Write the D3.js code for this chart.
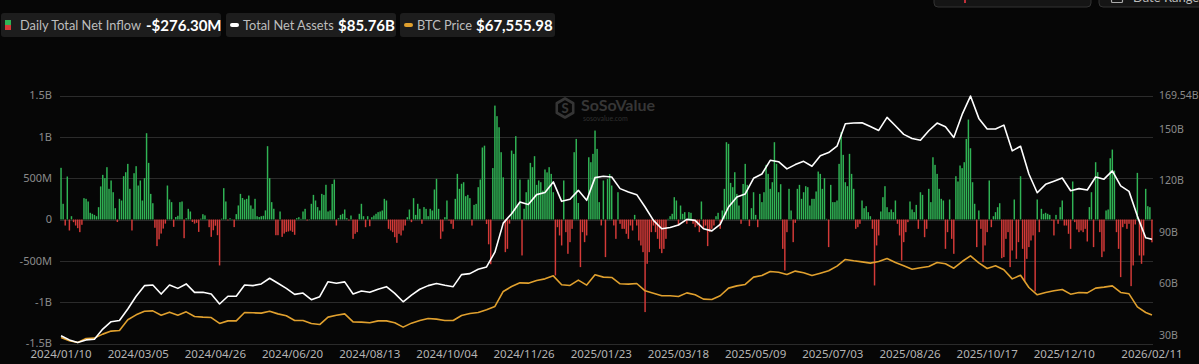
<!DOCTYPE html>
<html><head><meta charset="utf-8">
<script src="https://cdn.jsdelivr.net/npm/d3@7"></script>
<style>
html,body{margin:0;padding:0;background:#060606;}
svg{display:block;}
</style></head><body>
<svg id="c" width="1199" height="364"></svg>
<script>
// ---------- DATA ----------
const dayCount = 524; // trading days 2024/01/10 .. 2026/02/11
const tickLabels = ["2024/01/10","2024/03/05","2024/04/26","2024/06/20","2024/08/13","2024/10/04","2024/11/26","2025/01/23","2025/03/18","2025/05/09","2025/07/03","2025/08/26","2025/10/17","2025/12/10","2026/02/11"];
const tickInterval = 37;

// Daily total net inflow, $M (one per trading day)
const netInflowM = [
625,190,-73,520,-133,40,-32,-73,-105,-153,
-64,258,250,218,81,69,56,40,149,400,
540,500,633,371,472,330,137,-30,250,230,
524,572,673,371,-133,560,645,411,472,230,
500,1044,685,310,197,-100,-322,-240,-170,-110,
-50,411,242,210,-89,30,45,210,218,-226,
15,129,97,-30,-50,-40,-150,10,64,50,
5,-93,-210,-130,-75,-190,-556,10,379,218,
-10,15,5,-92,65,170,310,260,240,250,
290,170,130,250,40,30,40,45,110,887,
500,210,130,-190,
-190,97,-210,-170,-150,-145,
-135,-150,-185,16,28,8,97,129,-12,5,
190,298,230,150,109,310,298,420,97,109,
430,484,-73,16,56,69,121,16,-12,48,
-234,-173,-153,69,190,40,-93,40,-81,28,
48,69,89,97,109,250,230,-113,-133,-153,
-214,-282,-173,-193,-133,-73,28,121,-32,258,
56,190,129,-52,150,129,40,129,109,363,
492,129,-234,-145,28,230,-12,-52,-113,250,
552,371,432,451,282,298,258,-73,177,189,
391,484,871,893,-55,-300,-541,622,1378,1250,
1116,814,510,-395,-355,-50,834,794,1008,169,
484,-435,130,330,484,685,633,766,419,472,
451,350,605,570,633,552,330,-677,-93,-193,
-314,472,-153,-415,-274,-113,814,975,200,-576,
-153,-274,-193,753,693,794,1076,854,210,-72,
472,-455,490,550,411,-72,-234,330,-52,-113,
-113,-173,-234,-73,-133,56,-73,-254,-314,-395,
-1120,-536,-395,-153,-73,-153,-234,-355,-407,-355,
-234,8,40,69,270,230,-73,169,69,89,
-52,89,81,-52,-93,-73,-153,218,-113,-73,
-322,-153,-113,-73,40,81,-113,
109,371,935,
915,443,391,572,310,169,-52,430,673,419,
-80,137,330,56,-93,310,210,330,661,552,
371,451,935,673,330,427,-355,-617,-153,371,
109,-274,-40,371,419,250,330,403,391,169,
250,250,339,580,552,371,500,8,-334,419,
210,210,230,673,1056,782,451,403,794,552,
371,-113,-93,-52,230,137,161,89,40,-113,
-798,-314,-193,97,270,403,149,89,121,89,
230,-52,-193,-496,-274,-153,-32,218,121,89,
177,-113,330,298,-214,-113,371,210,753,661,
552,371,250,
230,-355,-153,242,-234,-415,524,
460,653,621,693,975,1209,862,451,190,-334,
109,-113,-516,-314,-153,472,-93,40,89,149,
197,-468,-455,-234,-153,-576,-375,242,-476,-274,
524,-355,-750,-476,-334,-254,-193,-870,242,-153,
129,69,81,69,56,-12,-193,56,-52,149,
230,-73,-73,-173,-355,460,-32,-121,-153,-133,
-153,-113,-266,150,330,-334,693,572,-153,-455,
-387,109,121,741,846,592,-153,-355,-697,-93,
-52,-113,-52,-806,-556,-60,564,-435,-536,-435,
371,161,149,-276.3
];

// Lines are read every 4th trading day, plus the last day
const lineStep = 4;
// Total net assets, $B
const netAssetsB = [
29.6,27.2,25.7,27.2,27.6,33.5,37.8,38.5,45.2,52.6,
58.8,59.2,53.9,59.2,57.2,59.8,54.9,54.9,53.9,48.1,
52.6,52.6,59.2,58.8,59.8,63.1,60.2,57.2,53.7,54.5,
50.6,52.4,61.1,60.2,61.0,53.9,55.7,54.9,56.7,58.2,
54.3,49.4,53.3,56.7,58.8,60.0,59.0,58.2,65.2,65.8,
68.3,69.7,78.3,95.2,100.7,107.5,106.0,111.8,113.0,119.2,
107.9,109.1,114.3,108.5,121.7,122.5,122.1,115.3,113.4,111.8,
104.6,96.8,91.9,92.7,94.1,97.4,96.8,91.9,90.7,94.5,
104.6,110.4,112.2,121.3,123.8,131.8,131.0,126.8,129.3,131.2,
128.3,134.5,136.3,140.0,153.1,153.5,153.7,151.5,149.2,156.8,
151.9,146.9,144.5,143.5,149.0,153.5,151.3,145.1,158.5,169.2,
156.2,150.0,150.0,152.3,137.3,140.0,123.8,112.9,117.8,119.6,
121.5,114.1,115.3,114.5,122.1,120.8,125.6,116.9,113.7,99.3,
86.7,85.76
];
// BTC price, $K
const btcPriceK = [
46.8,43.7,42.1,45.8,46.2,49.9,52.7,53.3,63.2,67.8,
71.2,71.5,67.5,70.3,67.5,70.6,66.3,65.7,65.3,59.8,
62.2,62.2,70.0,69.7,69.4,71.2,68.7,66.9,62.6,62.6,
59.8,58.8,65.7,67.5,68.7,61.3,61.0,60.4,62.2,62.2,
60.4,56.4,60.1,62.6,64.4,63.8,62.6,62.6,67.2,69.1,
70.0,72.5,75.6,89.5,94.1,97.5,97.2,99.7,101.2,104.0,
95.7,95.1,100.0,95.4,105.0,102.8,102.5,96.6,96.3,96.9,
90.1,87.9,85.5,85.5,84.8,88.2,86.4,82.4,82.1,85.5,
92.6,94.7,96.0,102.8,104.3,108.1,107.4,105.3,108.4,106.8,
104.3,106.5,108.7,113.0,119.2,118.0,117.0,115.8,117.3,120.1,
116.4,113.3,110.2,111.5,112.7,116.4,115.2,111.1,117.3,122.6,
116.1,110.8,113.3,109.6,101.2,104.6,93.2,86.4,88.6,90.1,
91.3,87.0,88.6,88.2,92.6,93.5,94.7,88.6,87.3,75.2,
70.0,67.55598
];

const leftTicks = [-1500,-1000,-500,0,500,1000,1500];
const leftTickLabels = ["-1.5B","-1B","-500M","0","500M","1B","1.5B"];
const rightTicks = [30,60,90,120,150,169.54];
const rightTickLabels = ["30B","60B","90B","120B","150B","169.54B"];

if (netInflowM.length !== dayCount) throw new Error("inflow len " + netInflowM.length);
if (netAssetsB.length !== btcPriceK.length) throw new Error("line len");

// ---------- CHART ----------
const W = 1199, H = 364;
const P = {left: 60, right: 1153, top: 95.5, bottom: 343.5};
const svg = d3.select("#c");
svg.append("rect").attr("width", W).attr("height", H).attr("fill", "#060606");

const x = d3.scaleBand().domain(d3.range(dayCount)).range([P.left, P.right])
  .paddingInner(0.3).paddingOuter(0.15);
const cx = i => x(i) + x.bandwidth() / 2;
const yL = d3.scaleLinear().domain([-1500, 1500]).range([P.bottom, P.top]);
const yR = d3.scaleLinear().domain([25.1, 169.54]).range([P.bottom, P.top]);
const yB = d3.scaleLinear().domain([41.2, 271.4]).range([P.bottom, P.top]);

// grid
svg.append("g").selectAll("line").data(leftTicks).join("line")
  .attr("x1", P.left).attr("x2", P.right)
  .attr("y1", d => Math.round(yL(d)) + 0.5).attr("y2", d => Math.round(yL(d)) + 0.5)
  .attr("stroke", "#2b2b2b").attr("stroke-width", 1);

// watermark
const wm = svg.append("g").attr("transform", "translate(555,97)");
const hex = d3.range(6).map(k => {
  const a = Math.PI / 6 + k * Math.PI / 3;
  return [10 + 9.5 * Math.cos(a), 11 + 9.5 * Math.sin(a)];
});
wm.append("path").attr("d", "M" + hex.join("L") + "Z")
  .attr("fill", "none").attr("stroke", "#353535").attr("stroke-width", 2.6).attr("stroke-linejoin", "round");
wm.append("text").attr("x", 10).attr("y", 16).attr("text-anchor", "middle")
  .attr("font-family", "Lato, sans-serif").attr("font-weight", 900).attr("font-size", 13)
  .attr("fill", "#353535").text("S");
wm.append("text").attr("x", 26).attr("y", 14)
  .attr("font-family", "Lato, sans-serif").attr("font-weight", 700).attr("font-size", 16)
  .attr("fill", "#363636").text("SoSoValue");
wm.append("text").attr("x", 28).attr("y", 24)
  .attr("font-family", "Lato, sans-serif").attr("font-size", 7)
  .attr("fill", "#303030").text("sosovalue.com");

// bars
svg.append("g").selectAll("rect").data(netInflowM).join("rect")
  .attr("x", (d, i) => x(i)).attr("width", x.bandwidth())
  .attr("y", d => d >= 0 ? yL(d) : yL(0))
  .attr("height", d => Math.abs(yL(d) - yL(0)))
  .attr("fill", d => d >= 0 ? "#30b455" : "#d43a38");

// lines
const lineIdx = (k, n) => (k === n - 1 ? dayCount - 1 : k * lineStep);
const btcLine = d3.line().x((d, k) => cx(lineIdx(k, btcPriceK.length))).y(d => yB(d));
const assetLine = d3.line().x((d, k) => cx(lineIdx(k, netAssetsB.length))).y(d => yR(d));
svg.append("path").attr("d", btcLine(btcPriceK)).attr("fill", "none")
  .attr("stroke", "#e0a02e").attr("stroke-width", 1.6).attr("stroke-linejoin", "round");
svg.append("path").attr("d", assetLine(netAssetsB)).attr("fill", "none")
  .attr("stroke", "#ffffff").attr("stroke-width", 1.6).attr("stroke-linejoin", "round");

// axes labels
const axisFont = "'Noto Sans', 'Open Sans', sans-serif";
svg.append("g").selectAll("text").data(leftTicks).join("text")
  .attr("x", 52).attr("y", d => yL(d)).attr("dy", "0.35em").attr("text-anchor", "end")
  .attr("font-family", axisFont).attr("font-size", 11).attr("fill", "#8a8a8a")
  .text((d, i) => leftTickLabels[i]);
svg.append("g").selectAll("text").data(rightTicks).join("text")
  .attr("x", 1159).attr("y", d => yR(d)).attr("dy", "0.35em").attr("text-anchor", "start")
  .attr("font-family", axisFont).attr("font-size", 10.5).attr("fill", "#8a8a8a")
  .text((d, i) => rightTickLabels[i]);
svg.append("g").selectAll("text").data(tickLabels).join("text")
  .attr("x", (d, i) => cx(i === tickLabels.length - 1 ? dayCount - 1 : i * tickInterval))
  .attr("y", 358).attr("text-anchor", "middle")
  .attr("font-family", axisFont).attr("font-size", 11.5).attr("fill", "#b4b4b4")
  .text(d => d);

// legend
const legFont = "Lato, 'Noto Sans', sans-serif";
const last = a => a[a.length - 1];
const legend = [
  {x: 1, w: 220, label: "Daily Total Net Inflow", value: (last(netInflowM) < 0 ? "-$" : "$") + d3.format(".2f")(Math.abs(last(netInflowM))) + "M", lx: 19, vx: 145},
  {x: 226, w: 170, label: "Total Net Assets", value: "$" + d3.format(".2f")(last(netAssetsB)) + "B", lx: 17, vx: 112},
  {x: 400, w: 155, label: "BTC Price", value: "$" + d3.format(",.2f")(last(btcPriceK) * 1000), lx: 17, vx: 76}
];
const lg = svg.append("g").selectAll("g").data(legend).join("g").attr("transform", d => `translate(${d.x},13)`);
lg.append("rect").attr("width", d => d.w).attr("height", 24).attr("rx", 3).attr("fill", "#1d1d1d");
lg.append("text").attr("x", d => d.lx).attr("y", 17).attr("font-family", legFont).attr("font-size", 12.8)
  .attr("fill", "#bdbdbd").text(d => d.label);
lg.append("text").attr("x", d => d.vx).attr("y", 17.5).attr("font-family", legFont).attr("font-weight", 700)
  .attr("font-size", 15).attr("fill", "#ffffff").text(d => d.value);
// legend icons
const g0 = d3.select(lg.nodes()[0]);
g0.append("rect").attr("x", 4).attr("y", 7).attr("width", 6).attr("height", 5).attr("fill", "#30b455");
g0.append("rect").attr("x", 4).attr("y", 12).attr("width", 6).attr("height", 5).attr("fill", "#d43a38");
d3.select(lg.nodes()[1]).append("rect").attr("x", 4).attr("y", 10).attr("width", 9).attr("height", 4).attr("rx", 2).attr("fill", "#ffffff");
d3.select(lg.nodes()[2]).append("rect").attr("x", 4).attr("y", 10).attr("width", 9).attr("height", 4).attr("rx", 2).attr("fill", "#e0a02e");

// partial controls cut at top-right
svg.append("rect").attr("x", 934).attr("y", -20).attr("width", 157).attr("height", 27).attr("rx", 4)
  .attr("fill", "#151515").attr("stroke", "#333").attr("stroke-width", 1);
svg.append("rect").attr("x", 964).attr("y", -4).attr("width", 2).attr("height", 7).attr("fill", "#c0303a");
svg.append("rect").attr("x", 1099).attr("y", -20).attr("width", 110).attr("height", 27).attr("rx", 4)
  .attr("fill", "#151515").attr("stroke", "#333").attr("stroke-width", 1);
svg.append("rect").attr("x", 1111.5).attr("y", -6).attr("width", 11).attr("height", 8.5).attr("rx", 1)
  .attr("fill", "none").attr("stroke", "#aaa").attr("stroke-width", 1.2);
svg.append("text").attr("x", 1133).attr("y", 1.5).attr("font-family", legFont).attr("font-size", 13)
  .attr("fill", "#bbb").text("Date Range");
</script>
</body></html>
